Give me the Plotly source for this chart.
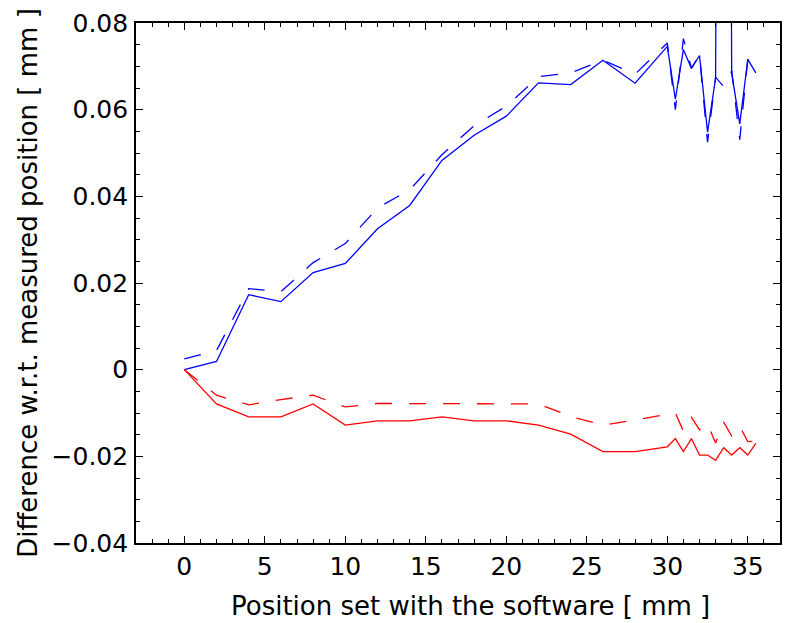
import plotly.graph_objects as go

# Position set with the software [mm]
x_pos = [0, 2, 4, 6, 8, 10, 12, 14, 16, 18, 20, 22, 24, 26, 28, 30,
         30.5, 31, 31.5, 32, 32.5, 33, 33.5, 34, 34.5, 35, 35.5]

blue_solid = [0, 0.0019, 0.0173, 0.0157, 0.0224, 0.0245, 0.0325, 0.0379, 0.0483, 0.0541,
              0.0585, 0.0662, 0.0658, 0.0714, 0.0661, 0.0746,
              0.0624, 0.0739, 0.0695, 0.0725, 0.0548, 0.0673, 0.5, 0.0685, 0.0567, 0.0716, 0.0685]
blue_dashed = [0.0025, 0.0044, 0.0187, 0.0180, 0.0247, 0.0291, 0.0373, 0.0415, 0.0496, 0.0563,
               0.0608, 0.0676, 0.0685, 0.0714, 0.0682, 0.0754,
               0.0600, 0.0764, 0.0696, 0.0726, 0.0525, 0.0675, 0.0653, 0.0690, 0.0531, 0.0716, 0.0685]
red_solid = [0, -0.0079, -0.0109, -0.0109, -0.0079, -0.0128, -0.0118, -0.0118, -0.0109, -0.0118,
             -0.0118, -0.0128, -0.0149, -0.0189, -0.0189, -0.0178,
             -0.0159, -0.0189, -0.0159, -0.0197, -0.0197, -0.0209, -0.0180, -0.0197, -0.0180, -0.0197, -0.0170]
red_dashed = [0, -0.0059, -0.0081, -0.0069, -0.0059, -0.0086, -0.0078, -0.0078, -0.0079, -0.0079,
              -0.0079, -0.0079, -0.0108, -0.0128, -0.0116, -0.0104,
              -0.0100, -0.0142, -0.0110, -0.0139, -0.0125, -0.0169, -0.0121, -0.0153, -0.0131, -0.0166, -0.0165]

x_tick_vals = [0, 5, 10, 15, 20, 25, 30, 35]
x_tick_text = ["0", "5", "10", "15", "20", "25", "30", "35"]
y_tick_vals = [-0.04, -0.02, 0, 0.02, 0.04, 0.06, 0.08]
y_tick_text = ["\u22120.04", "\u22120.02", "0", "0.02", "0.04", "0.06", "0.08"]
x_title = "Position set with the software [ mm ]"
y_title = "Difference w.r.t. measured position [ mm ]"

FONT = "DejaVu Sans"
BLUE = "#0000ff"
RED = "#ff0000"
DASH = "17px,17px"
LW = 1.3
FS = 25
FS_TITLE = 26

fig = go.Figure()
fig.add_trace(go.Scatter(x=x_pos, y=blue_solid, mode="lines", line=dict(color=BLUE, width=LW)))
fig.add_trace(go.Scatter(x=x_pos, y=blue_dashed, mode="lines", line=dict(color=BLUE, width=LW, dash=DASH)))
fig.add_trace(go.Scatter(x=x_pos, y=red_solid, mode="lines", line=dict(color=RED, width=LW)))
fig.add_trace(go.Scatter(x=x_pos, y=red_dashed, mode="lines", line=dict(color=RED, width=LW, dash=DASH)))

axis_common = dict(
    showgrid=False, zeroline=False, showline=True, linecolor="black", linewidth=1.6,
    mirror="allticks", ticks="inside", ticklen=7, tickwidth=1.2, tickcolor="black",
    tickfont=dict(family=FONT, size=FS, color="black"),
)

fig.update_layout(
    width=791, height=623,
    margin=dict(l=136, r=9, t=17, b=80),
    paper_bgcolor="white", plot_bgcolor="white",
    showlegend=False,
    xaxis=dict(
        range=[-3, 37], tickmode="array", tickvals=x_tick_vals, ticktext=x_tick_text,
        minor=dict(dtick=1, ticks="inside", ticklen=4, tickcolor="black", tickwidth=1),
        ticklabelstandoff=0,
        **axis_common,
    ),
    yaxis=dict(
        range=[-0.04, 0.08], tickmode="array", tickvals=y_tick_vals, ticktext=y_tick_text,
        minor=dict(dtick=0.005, tick0=0, ticks="inside", ticklen=4, tickcolor="black", tickwidth=1),
        ticklabelstandoff=1,
        title=dict(text=y_title, font=dict(family=FONT, size=FS_TITLE, color="black"), standoff=6),
        **axis_common,
    ),
    annotations=[dict(
        text=x_title, xref="paper", yref="paper", x=0.52, y=-0.122,
        xanchor="center", yanchor="middle", showarrow=False,
        font=dict(family=FONT, size=FS_TITLE, color="black"),
    )],
)

fig.write_html("out.html")
